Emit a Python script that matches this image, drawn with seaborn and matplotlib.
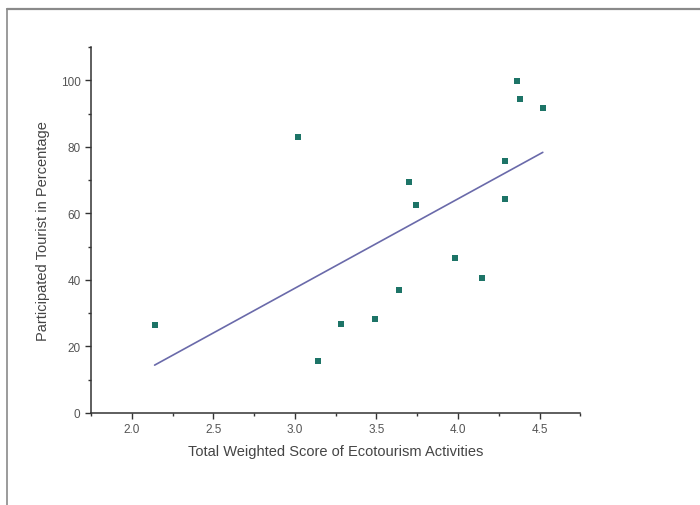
import matplotlib.pyplot as plt
import seaborn as sns
import pandas as pd
from matplotlib.ticker import MultipleLocator
from matplotlib.lines import Line2D

# values
score = [2.14, 3.02, 3.14, 3.28, 3.49, 3.64, 3.70, 3.74, 3.98, 4.15, 4.29, 4.29, 4.36, 4.38, 4.52]
tourist = [26.4, 82.9, 15.6, 26.7, 28.2, 36.9, 69.4, 62.5, 46.5, 40.5, 75.7, 64.3, 99.7, 94.3, 91.6]

df = pd.DataFrame({"score": score, "tourist": tourist})

sns.set_style("ticks")
plt.rcParams["font.family"] = ["Liberation Sans", "DejaVu Sans"]

fig = plt.figure(figsize=(7, 5.06), dpi=100)
ax = fig.add_axes([0.13, 0.182, 0.699, 0.723])

sns.regplot(data=df, x="score", y="tourist", ax=ax, ci=None, truncate=True,
            marker="s",
            scatter_kws={"s": 24, "color": "#1d7467", "linewidths": 0, "alpha": 1},
            line_kws={"color": "#6a6aaa", "lw": 1.2})

ax.set_xlim(1.75, 4.75)
ax.set_ylim(0, 110)
ax.xaxis.set_minor_locator(MultipleLocator(0.25))
ax.yaxis.set_minor_locator(MultipleLocator(10))
ax.set_xticks([2.0, 2.5, 3.0, 3.5, 4.0, 4.5])
ax.set_xticklabels(["2.0", "2.5", "3.0", "3.5", "4.0", "4.5"])
ax.set_yticks([0, 20, 40, 60, 80, 100])

ax.tick_params(which="major", length=4, width=1, colors="#333333", labelsize=8.5, labelcolor="#555555")
ax.tick_params(which="minor", length=2, width=1, colors="#333333")
for s in ["left", "bottom"]:
    ax.spines[s].set_color("#333333")
    ax.spines[s].set_linewidth(1.1)
sns.despine(ax=ax)

ax.set_xlabel("Total Weighted Score of Ecotourism Activities", fontsize=10.5, color="#444444", labelpad=6)
ax.set_ylabel("Participated Tourist in Percentage", fontsize=10.5, color="#444444", labelpad=8)

# frame lines at the top and left of the picture
fig.add_artist(Line2D([0.01, 1.0], [0.981, 0.981], transform=fig.transFigure, color="#8a8a8a", lw=1.6))
fig.add_artist(Line2D([0.01, 0.01], [0.0, 0.981], transform=fig.transFigure, color="#8a8a8a", lw=1.2))

fig.savefig("out.png", dpi=100)
